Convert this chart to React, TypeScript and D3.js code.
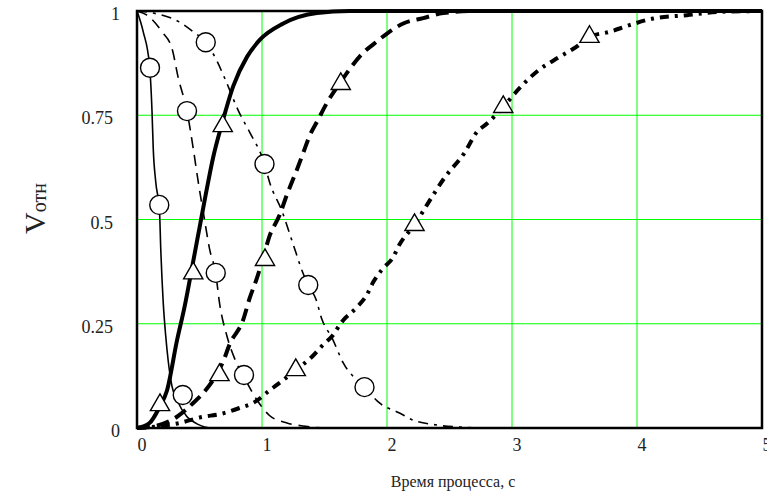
import { useEffect, useRef } from "react";
import * as d3 from "d3";

type Pt = [number, number];

// curves: [time, Vотн]
const curveA: Pt[] = [
  [0, 1], [0.05, 0.95], [0.1, 0.87], [0.12, 0.76], [0.13, 0.67], [0.15, 0.59],
  [0.18, 0.52], [0.19, 0.43], [0.21, 0.3], [0.23, 0.22], [0.25, 0.16], [0.28, 0.1],
  [0.32, 0.067], [0.4, 0.027], [0.48, 0.01], [0.6, 0], [5, 0],
];
const curveB: Pt[] = [
  [0, 1], [0.08, 0.99], [0.2, 0.95], [0.28, 0.91], [0.33, 0.84], [0.4, 0.76],
  [0.45, 0.67], [0.49, 0.59], [0.54, 0.5], [0.58, 0.43], [0.63, 0.37], [0.66, 0.3],
  [0.72, 0.22], [0.79, 0.16], [0.86, 0.12], [0.96, 0.067], [1.06, 0.03], [1.2, 0.012],
  [1.35, 0.004], [1.5, 0], [5, 0],
];
const curveC: Pt[] = [
  [0, 1], [0.13, 0.995], [0.33, 0.975], [0.45, 0.95], [0.55, 0.925], [0.64, 0.88],
  [0.7, 0.84], [0.82, 0.755], [0.9, 0.71], [1.02, 0.633], [1.06, 0.59], [1.16, 0.52],
  [1.25, 0.44], [1.33, 0.37], [1.37, 0.343], [1.43, 0.31], [1.48, 0.26], [1.56, 0.216],
  [1.65, 0.156], [1.82, 0.098], [1.94, 0.06], [2.1, 0.036], [2.2, 0.02], [2.4, 0.007],
  [2.6, 0.002], [2.8, 0], [5, 0],
];
const curveD: Pt[] = [
  [0, 0], [0.1, 0.012], [0.18, 0.05], [0.24, 0.09], [0.32, 0.21], [0.38, 0.29],
  [0.45, 0.4], [0.5, 0.48], [0.55, 0.56], [0.61, 0.65], [0.68, 0.73], [0.77, 0.82],
  [0.88, 0.89], [0.98, 0.93], [1.17, 0.97], [1.44, 0.995], [1.7, 1], [5, 1],
];
const curveE: Pt[] = [
  [0, 0], [0.15, 0.005], [0.32, 0.027], [0.45, 0.06], [0.53, 0.084], [0.62, 0.12],
  [0.69, 0.16], [0.74, 0.2], [0.85, 0.26], [0.9, 0.31], [0.96, 0.36], [1.02, 0.42],
  [1.06, 0.46], [1.14, 0.51], [1.2, 0.56], [1.28, 0.62], [1.33, 0.66], [1.38, 0.7],
  [1.45, 0.74], [1.52, 0.78], [1.63, 0.83], [1.7, 0.86], [1.81, 0.9], [1.89, 0.92],
  [2.0, 0.946], [2.13, 0.97], [2.29, 0.983], [2.45, 0.995], [2.7, 1], [5, 1],
];
const curveF: Pt[] = [
  [0, 0], [0.2, 0.005], [0.34, 0.012], [0.53, 0.027], [0.66, 0.033], [0.82, 0.048],
  [0.94, 0.062], [1.06, 0.09], [1.17, 0.115], [1.27, 0.139], [1.4, 0.171], [1.49, 0.2],
  [1.56, 0.22], [1.64, 0.255], [1.76, 0.29], [1.84, 0.32], [1.89, 0.35], [1.96, 0.38],
  [2.05, 0.41], [2.1, 0.44], [2.22, 0.487], [2.33, 0.54], [2.46, 0.6], [2.62, 0.66],
  [2.72, 0.71], [2.8, 0.73], [2.93, 0.77], [3.06, 0.815], [3.2, 0.855], [3.38, 0.89],
  [3.52, 0.915], [3.62, 0.938], [3.78, 0.95], [3.94, 0.966], [4.13, 0.982], [4.4, 0.99],
  [4.66, 0.998], [5, 1],
];

// markers
const circlesA: Pt[] = [[0.104, 0.864], [0.178, 0.535], [0.366, 0.079]];
const circlesB: Pt[] = [[0.4, 0.76], [0.63, 0.372], [0.856, 0.127]];
const circlesC: Pt[] = [[0.55, 0.925], [1.02, 0.633], [1.37, 0.343], [1.82, 0.098]];
const trianglesD: Pt[] = [[0.184, 0.055], [0.45, 0.371], [0.686, 0.724]];
const trianglesE: Pt[] = [[0.66, 0.127], [1.024, 0.403], [1.63, 0.825]];
const trianglesF: Pt[] = [[1.27, 0.139], [2.22, 0.487], [2.93, 0.77], [3.62, 0.938]];

const xTicks = [0, 1, 2, 3, 4, 5];
const yTicks = [0, 0.25, 0.5, 0.75, 1];
const xTitle = "Время процесса, с";

export default function App(): JSX.Element {
  const ref = useRef<SVGSVGElement | null>(null);

  useEffect(() => {
    if (!ref.current) return;
    const width = 767;
    const height = 494;
    const m = { left: 137, right: 5, top: 11, bottom: 66 };
    const x = d3.scaleLinear().domain([0, 5]).range([m.left, width - m.right]);
    const y = d3.scaleLinear().domain([0, 1]).range([height - m.bottom, m.top]);

    const svg = d3.select(ref.current);
    svg.selectAll("*").remove();
    svg.append("rect").attr("width", width).attr("height", height).attr("fill", "#fff");

    // grid
    const grid = svg.append("g").attr("stroke", "#00ff00").attr("stroke-width", 1);
    grid
      .selectAll("line.gx")
      .data(xTicks.slice(1, -1))
      .join("line")
      .attr("x1", (d) => x(d))
      .attr("x2", (d) => x(d))
      .attr("y1", y(0))
      .attr("y2", y(1));
    grid
      .selectAll("line.gy")
      .data(yTicks.slice(1, -1))
      .join("line")
      .attr("x1", x(0))
      .attr("x2", x(5))
      .attr("y1", (d) => y(d))
      .attr("y2", (d) => y(d));

    const line = d3
      .line<Pt>()
      .x((d) => x(d[0]))
      .y((d) => y(d[1]))
      .curve(d3.curveMonotoneX);

    const series: { pts: Pt[]; w: number; dash: string | null }[] = [
      { pts: curveA, w: 1.6, dash: null },
      { pts: curveB, w: 1.6, dash: "11,7" },
      { pts: curveC, w: 1.6, dash: "10,6,3,6" },
      { pts: curveD, w: 4, dash: null },
      { pts: curveE, w: 4, dash: "13,7" },
      { pts: curveF, w: 4, dash: "9,6,3,6" },
    ];
    const lines = svg.append("g").attr("fill", "none").attr("stroke", "#000");
    for (const s of series) {
      lines
        .append("path")
        .attr("d", line(s.pts) ?? "")
        .attr("stroke-width", s.w)
        .attr("stroke-dasharray", s.dash);
    }

    // frame
    svg
      .append("rect")
      .attr("x", x(0))
      .attr("y", y(1))
      .attr("width", x(5) - x(0))
      .attr("height", y(0) - y(1))
      .attr("fill", "none")
      .attr("stroke", "#000")
      .attr("stroke-width", 2.5);

    const marks = svg.append("g").attr("fill", "#fff").attr("stroke", "#000").attr("stroke-width", 1.4);
    for (const c of [...circlesA, ...circlesB, ...circlesC]) {
      marks.append("circle").attr("cx", x(c[0])).attr("cy", y(c[1])).attr("r", 9.5);
    }
    const tri = d3.symbol().type(d3.symbolTriangle).size(160);
    for (const t of [...trianglesD, ...trianglesE, ...trianglesF]) {
      marks
        .append("path")
        .attr("d", tri() ?? "")
        .attr("transform", `translate(${x(t[0])},${y(t[1])})`);
    }

    const font = "'Liberation Serif', 'Times New Roman', serif";
    svg
      .append("g")
      .attr("font-family", font)
      .attr("font-size", 18)
      .attr("fill", "#222")
      .selectAll("text")
      .data(xTicks)
      .join("text")
      .attr("x", (d) => x(d) + 5)
      .attr("y", y(0) + 23)
      .attr("text-anchor", "middle")
      .text((d) => String(d));
    svg
      .append("g")
      .attr("font-family", font)
      .attr("font-size", 18)
      .attr("fill", "#222")
      .selectAll("text")
      .data(yTicks)
      .join("text")
      .attr("x", (d) => (d === 0 || d === 1 ? 120 : 113))
      .attr("y", (d) => y(d) + 9)
      .attr("text-anchor", "end")
      .text((d) => String(d));

    svg
      .append("text")
      .attr("x", 453)
      .attr("y", 487)
      .attr("text-anchor", "middle")
      .attr("font-family", font)
      .attr("font-size", 16)
      .attr("fill", "#222")
      .text(xTitle);

    const yl = svg
      .append("text")
      .attr("transform", "translate(45,234) rotate(-90)")
      .attr("font-family", font)
      .attr("fill", "#222");
    yl.append("tspan").attr("font-size", 30).text("V");
    yl.append("tspan").attr("font-size", 20).attr("dy", 1).text("отн");
  }, []);

  return (
    <svg
      ref={ref}
      width={767}
      height={494}
      style={{ position: "absolute", left: 0, top: 0 }}
    />
  );
}
